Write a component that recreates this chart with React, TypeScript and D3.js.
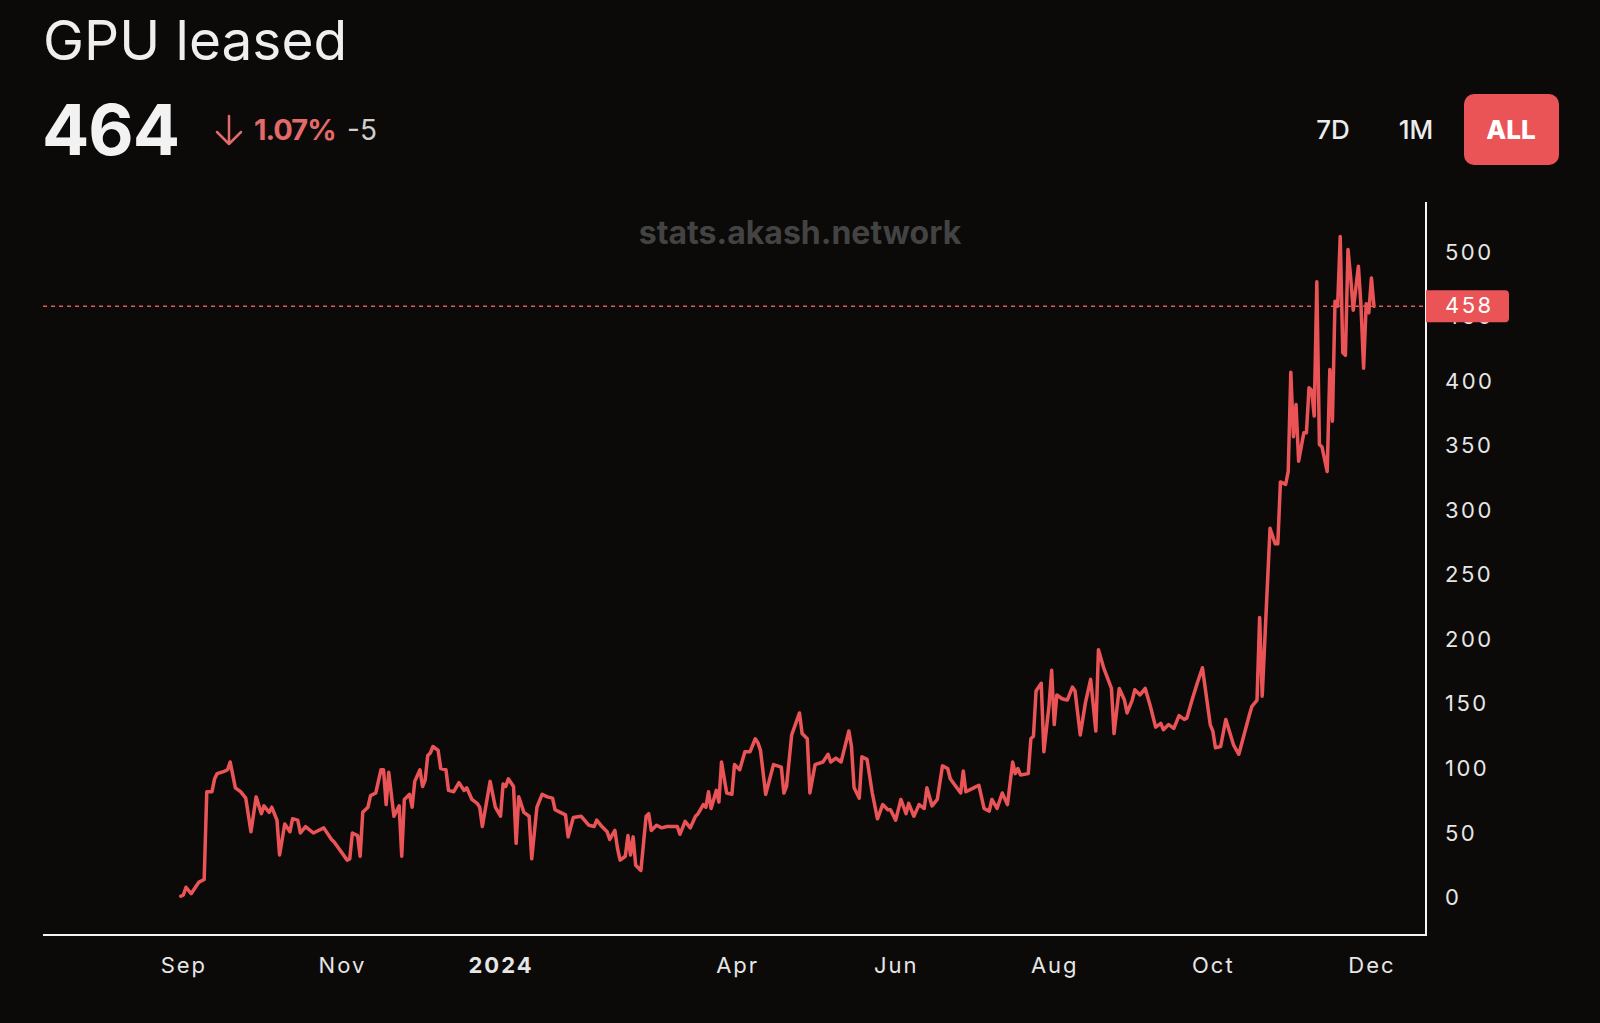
import React, { useEffect, useRef } from 'react';
import * as d3 from 'd3';

// days since 2023-09-01 (UTC) and the GPU count on that day
const seriesStart = Date.UTC(2023, 8, 1);
const dayOffsets = [
  -1, 0, 1, 3, 4, 6, 8, 9, 11, 12,
  13, 16, 17, 18, 20, 22, 24, 26, 28, 30,
  31, 33, 34, 36, 37, 39, 41, 42, 44, 45,
  47, 50, 54, 57, 58, 63, 64, 65, 67, 68,
  69, 71, 72, 74, 76, 77, 78, 79, 81, 83,
  84, 85, 87, 88, 89, 91, 92, 93, 94, 95,
  96, 98, 99, 101, 102, 104, 106, 108, 109, 111,
  113, 114, 115, 118, 120, 122, 123, 124, 125, 127,
  128, 129, 131, 133, 134, 136, 138, 140, 142, 143,
  145, 147, 148, 150, 153, 156, 158, 159, 161, 163,
  164, 166, 167, 168, 170, 171, 172, 173, 174, 176,
  178, 179, 180, 182, 184, 186, 190, 191, 193, 195,
  197, 198, 200, 201, 202, 203, 205, 206, 207, 209,
  211, 212, 214, 216, 218, 220, 221, 222, 224, 227,
  230, 231, 232, 234, 237, 238, 240, 241, 243, 246,
  248, 249, 251, 253, 254, 256, 257, 258, 260, 261,
  263, 265, 267, 269, 271, 272, 274, 276, 278, 279,
  281, 283, 285, 286, 288, 290, 292, 294, 295, 299,
  300, 301, 304, 306, 308, 310, 311, 313, 315, 317,
  319, 320, 321, 322, 325, 326, 327, 328, 330, 331,
  333, 334, 335, 336, 338, 340, 342, 343, 345, 347,
  349, 351, 352, 354, 357, 358, 360, 362, 363, 365,
  366, 368, 370, 372, 374, 376, 377, 379, 381, 383,
  385, 386, 388, 390, 392, 395, 396, 397, 399, 401,
  404, 406, 410, 411, 413, 414, 415, 418, 420, 421,
  422, 424, 425, 426, 427, 428, 429, 431, 432, 433,
  434, 435, 436, 437, 438, 440, 441, 442, 443, 444,
  445, 446, 447, 448, 449, 450, 452, 453, 454, 455,
  456, 457, 458,
];
const gpuLeased = [
  1, 2, 8, 3, 6, 12, 14, 82, 82, 92,
  96, 98, 99, 105, 85, 82, 77, 51, 78, 65,
  71, 66, 70, 60, 33, 57, 51, 61, 60, 50,
  55, 50, 54, 45, 43, 29, 30, 50, 48, 32,
  66, 70, 79, 81, 99, 99, 72, 97, 63, 71,
  32, 76, 80, 70, 90, 99, 86, 91, 110, 112,
  117, 114, 100, 99, 83, 82, 89, 83, 85, 76,
  73, 70, 55, 90, 70, 63, 88, 86, 92, 86,
  42, 78, 66, 63, 30, 70, 80, 78, 77, 68,
  66, 64, 47, 62, 63, 56, 55, 60, 55, 51,
  45, 52, 38, 29, 32, 48, 33, 47, 25, 21,
  63, 65, 52, 56, 54, 55, 55, 49, 59, 54,
  63, 65, 72, 70, 82, 69, 83, 74, 105, 81,
  80, 103, 99, 113, 113, 123, 120, 114, 80, 103,
  101, 81, 86, 126, 143, 127, 123, 81, 103, 105,
  111, 105, 108, 105, 113, 129, 117, 85, 77, 109,
  107, 81, 61, 72, 68, 68, 60, 76, 65, 73,
  63, 72, 69, 85, 71, 76, 102, 100, 92, 81,
  98, 82, 85, 87, 69, 67, 76, 69, 81, 72,
  105, 96, 100, 95, 96, 123, 125, 160, 166, 113,
  149, 176, 134, 157, 154, 153, 163, 160, 126, 151,
  169, 129, 192, 178, 162, 127, 162, 153, 143, 153,
  161, 157, 162, 148, 132, 135, 130, 134, 131, 141,
  138, 139, 153, 166, 178, 134, 129, 116, 117, 138,
  118, 111, 141, 148, 153, 217, 156, 286, 274, 274,
  322, 320, 330, 407, 357, 382, 338, 360, 360, 395,
  393, 373, 477, 351, 349, 330, 409, 369, 462, 458,
  512, 422, 420, 502, 481, 455, 489, 458, 410, 460,
  453, 480, 458,
];

const yTicks = [0, 50, 100, 150, 200, 250, 300, 350, 400, 450, 500];
const xTickDates = [
  Date.UTC(2023, 8, 1), Date.UTC(2023, 10, 1), Date.UTC(2024, 0, 1), Date.UTC(2024, 3, 1),
  Date.UTC(2024, 5, 1), Date.UTC(2024, 7, 1), Date.UTC(2024, 9, 1), Date.UTC(2024, 11, 1),
];
const xTickLabels = ['Sep', 'Nov', '2024', 'Apr', 'Jun', 'Aug', 'Oct', 'Dec'];
const rangeButtons = ['7D', '1M', 'ALL'];

const title = 'GPU leased';
const headline = '464';
const changePct = '1.07%';
const changeAbs = '-5';
const lastValue = 458;

const RED = '#eb5457';
const BG = '#0b0a09';

const App: React.FC = () => {
  const svgRef = useRef<SVGSVGElement>(null);

  useEffect(() => {
    if (!svgRef.current) return;
    const svg = d3.select(svgRef.current);
    svg.selectAll('*').remove();

    const width = 1600;
    const height = 1023;
    const plot = { left: 43, right: 1426, top: 202, bottom: 935 };

    svg.append('rect').attr('width', width).attr('height', height).attr('fill', BG);

    const x = d3.scaleUtc()
      .domain([new Date(Date.UTC(2023, 6, 9)), new Date(Date.UTC(2024, 11, 22))])
      .range([plot.left, plot.right]);
    const y = d3.scaleLinear()
      .domain([-29, 538.8])
      .range([plot.bottom, plot.top]);

    const data = dayOffsets.map((d, i) => ({
      date: new Date(seriesStart + d * 86400000),
      value: gpuLeased[i],
    }));

    // header
    svg.append('text')
      .attr('x', 43).attr('y', 60)
      .attr('font-family', 'Inter, sans-serif').attr('font-size', 55)
      .attr('fill', '#efefef')
      .text(title);

    svg.append('text')
      .attr('x', 42).attr('y', 155)
      .attr('font-family', 'Inter, sans-serif').attr('font-size', 70).attr('font-weight', 700)
      .attr('letter-spacing', -1)
      .attr('fill', '#f2f2f2')
      .text(headline);

    svg.append('path')
      .attr('d', 'M229,116 L229,144 M217,132 L229,144 L241,132')
      .attr('fill', 'none').attr('stroke', '#e26a6a').attr('stroke-width', 2.5)
      .attr('stroke-linecap', 'round').attr('stroke-linejoin', 'round');

    svg.append('text')
      .attr('x', 254).attr('y', 140)
      .attr('font-family', 'Inter, sans-serif').attr('font-size', 29).attr('font-weight', 700)
      .attr('letter-spacing', -1)
      .attr('fill', '#e26a6a')
      .text(changePct);

    svg.append('text')
      .attr('x', 347).attr('y', 140)
      .attr('font-family', 'Inter, sans-serif').attr('font-size', 28)
      .attr('fill', '#cfcfcf')
      .text(changeAbs);

    // range buttons
    const btnCenters = [1333, 1416, 1511];
    svg.append('rect')
      .attr('x', 1464).attr('y', 94).attr('width', 95).attr('height', 71).attr('rx', 10)
      .attr('fill', RED);
    rangeButtons.forEach((b, i) => {
      svg.append('text')
        .attr('x', btnCenters[i]).attr('y', 139)
        .attr('text-anchor', 'middle')
        .attr('font-family', 'Inter, sans-serif').attr('font-size', 26)
        .attr('font-weight', b === 'ALL' ? 800 : 500)
        .attr('fill', b === 'ALL' ? '#ffffff' : '#ececec')
        .text(b);
    });

    // watermark
    svg.append('text')
      .attr('x', 800).attr('y', 244)
      .attr('text-anchor', 'middle')
      .attr('font-family', 'Inter, sans-serif').attr('font-size', 32).attr('font-weight', 700)
      .attr('fill', '#434343')
      .text('stats.akash.network');

    // right axis
    svg.append('g')
      .attr('transform', `translate(${plot.right},0)`)
      .call(d3.axisRight(y).tickValues(yTicks).tickSize(0).tickPadding(19))
      .call(g => g.select('.domain').remove())
      .call(g => g.selectAll('.tick text')
        .attr('fill', '#e6e6e6')
        .attr('font-family', 'Inter, sans-serif')
        .attr('font-size', 22)
        .attr('letter-spacing', 2.5));

    // bottom axis
    svg.append('g')
      .attr('transform', `translate(0,${plot.bottom})`)
      .call(d3.axisBottom(x)
        .tickValues(xTickDates.map(t => new Date(t)))
        .tickSize(0).tickPadding(22)
        .tickFormat((_, i) => xTickLabels[i]))
      .call(g => g.select('.domain').remove())
      .call(g => g.selectAll('.tick text')
        .attr('fill', '#e6e6e6')
        .attr('font-family', 'Inter, sans-serif')
        .attr('font-size', 22)
        .attr('letter-spacing', 2)
        .attr('font-weight', (_, i) => (xTickLabels[i] === '2024' ? 700 : 400)));

    // frame lines
    svg.append('line')
      .attr('x1', plot.left).attr('x2', plot.right + 1)
      .attr('y1', plot.bottom).attr('y2', plot.bottom)
      .attr('stroke', '#f5f5f5').attr('stroke-width', 2);
    svg.append('line')
      .attr('x1', plot.right).attr('x2', plot.right)
      .attr('y1', plot.top).attr('y2', plot.bottom + 1)
      .attr('stroke', '#f5f5f5').attr('stroke-width', 2);

    // series line
    const line = d3.line<{ date: Date; value: number }>()
      .x(d => x(d.date))
      .y(d => y(d.value));

    svg.append('path')
      .datum(data)
      .attr('fill', 'none')
      .attr('stroke', RED)
      .attr('stroke-width', 3.5)
      .attr('stroke-linejoin', 'round')
      .attr('stroke-linecap', 'round')
      .attr('d', line);

    // last value marker
    const ly = y(lastValue);
    svg.append('line')
      .attr('x1', plot.left).attr('x2', plot.right)
      .attr('y1', ly).attr('y2', ly)
      .attr('stroke', RED).attr('stroke-width', 1.5)
      .attr('stroke-dasharray', '4,4');

    svg.append('path')
      .attr('d', `M${plot.right},${ly - 16} H${plot.right + 79} a4,4 0 0 1 4,4 V${ly + 12} a4,4 0 0 1 -4,4 H${plot.right} Z`)
      .attr('fill', RED);

    svg.append('text')
      .attr('x', plot.right + 19).attr('y', ly + 7)
      .attr('font-family', 'Inter, sans-serif').attr('font-size', 22)
      .attr('letter-spacing', 2.5)
      .attr('fill', '#ffffff')
      .text(String(lastValue));
  }, []);

  return (
    <svg
      ref={svgRef}
      width={1600}
      height={1023}
      style={{ position: 'absolute', left: 0, top: 0, display: 'block' }}
    />
  );
};

export default App;
